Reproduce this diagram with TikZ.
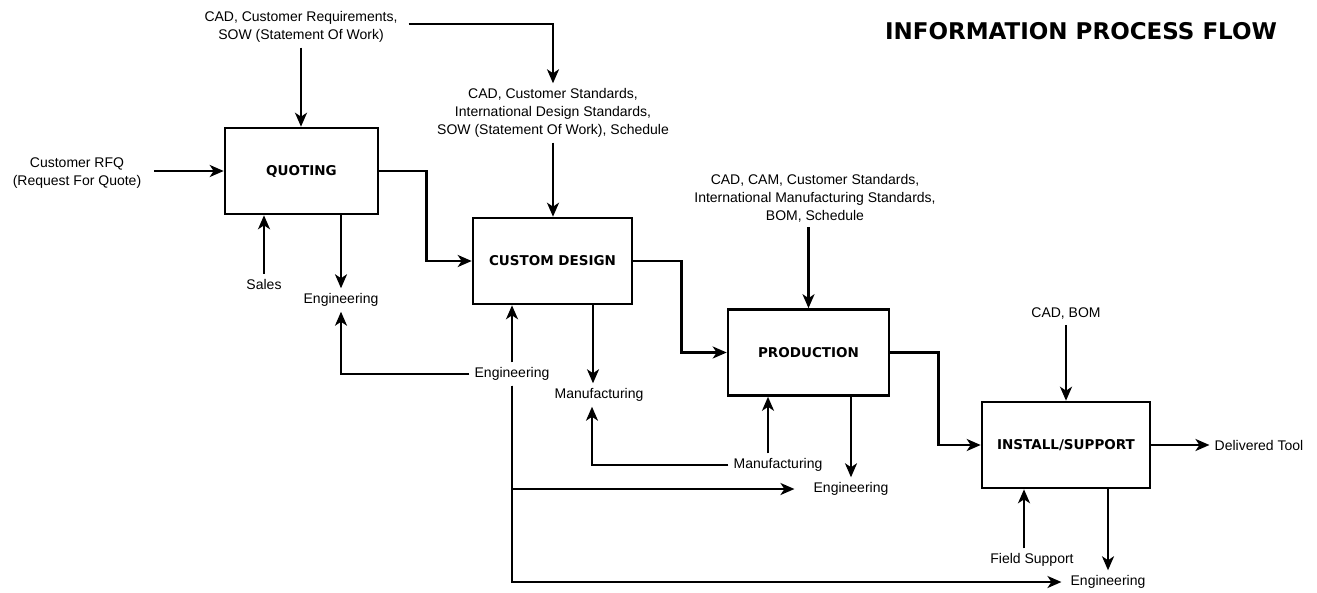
\documentclass[tikz,border=0pt]{standalone}
\usepackage{fontspec}
\setmainfont{Liberation Sans}
\newfontfamily\boxfont{DejaVu Sans}
\usetikzlibrary{arrows.meta}
\tikzstyle{process}=[draw, line width=2.6pt, minimum height=86pt, font=\boxfont\bfseries\fontsize{13.5}{15}\selectfont]
\tikzstyle{info}=[align=center, inner sep=5pt, font=\fontsize{14}{18}\selectfont]
\tikzstyle{flow}=[-{Stealth[length=14pt, width=12pt, inset=4pt]}, line width=2.2pt]
\tikzstyle{mainflow}=[flow, line width=2.7pt]

\begin{document}
\begin{tikzpicture}[x=1pt, y=-1pt]
        \useasboundingbox (0,0) rectangle (1317,592);
        \node[font=\boxfont\bfseries\fontsize{23}{26}\selectfont] (title) at (1081, 31) {INFORMATION PROCESS FLOW};
        % process boxes
        \node[process, minimum width=153pt] (quoting) at (301.5, 171) {QUOTING};
        \node[process, minimum width=159pt] (design) at (552.5, 261) {CUSTOM DESIGN};
        \node[process, minimum width=161pt] (production) at (808.5, 352.5) {PRODUCTION};
        \node[process, minimum width=168pt] (install) at (1066, 445) {INSTALL/SUPPORT};
        % inputs and outputs
        \node[info] (rfq) at (77, 173) {Customer RFQ\\(Request For Quote)};
        \node[info] (quotein) at (301, 27) {CAD, Customer Requirements,\\SOW (Statement Of Work)};
        \node[info] (designin) at (553, 113) {CAD, Customer Standards,\\International Design Standards,\\SOW (Statement Of Work), Schedule};
        \node[info] (prodin) at (815, 198) {CAD, CAM, Customer Standards,\\International Manufacturing Standards,\\BOM, Schedule};
        \node[info] (installin) at (1066, 314) {CAD, BOM};
        \node[info] (sales) at (264, 284) {Sales};
        \node[info] (engq) at (341, 300) {Engineering};
        \node[info] (engd) at (512, 374) {Engineering};
        \node[info] (mfgd) at (599, 395) {Manufacturing};
        \node[info] (mfgp) at (778, 465) {Manufacturing};
        \node[info] (engp) at (851, 489) {Engineering};
        \node[info] (field) at (1032, 560) {Field Support};
        \node[info] (engi) at (1108, 582) {Engineering};
        \node[info] (tool) at (1259, 445) {Delivered Tool};
        % main flow
        \draw[mainflow, shorten <=8pt] (rfq.east |- quoting.west) -- (quoting.west);
        \draw[mainflow] (quoting.east) -- ++(47, 0) |- (design.west);
        \draw[mainflow] (design.east) -- ++(48, 0) |- (production.west);
        \draw[mainflow] (production.east) -- ++(48, 0) |- (install.west);
        \draw[mainflow] (install.east) -- (tool.west);
        % controls from above
        \draw[flow] (quotein.south) -- (quotein.south |- quoting.north);
        \draw[flow, shorten <=6pt] ([yshift=3pt]quotein.east) -| (designin.north);
        \draw[flow] (designin.south) -- (designin.south |- design.north);
        \draw[flow] (production.north |- prodin.south) -- (production.north);
        \draw[flow] (installin.south) -- (install.north);
        % resources from below
        \draw[flow] (sales.north) -- (sales.north |- quoting.south);
        \draw[flow] (engq.north |- quoting.south) -- (engq.north);
        \draw[flow] (engd.west) -| (engq.south);
        \draw[flow] (engd.north) -- (engd.north |- design.south);
        \draw[flow, shorten >=14pt] (engd.south) |- (engp.west);
        \draw[flow, shorten >=4pt] (engd.south) |- (engi.west);
        \draw[flow] ([xshift=-6pt]mfgd.north |- design.south) -- ([xshift=-6pt]mfgd.north);
        \draw[flow] (mfgp.west) -| ([xshift=-7pt]mfgd.south);
        \draw[flow] ([xshift=-10pt]mfgp.north) -- ([xshift=-10pt]mfgp.north |- production.south);
        \draw[flow] (engp.north |- production.south) -- (engp.north);
        \draw[flow] ([xshift=-8pt]field.north) -- ([xshift=-8pt]field.north |- install.south);
        \draw[flow] (engi.north |- install.south) -- (engi.north);
    \end{tikzpicture}
\end{document}
